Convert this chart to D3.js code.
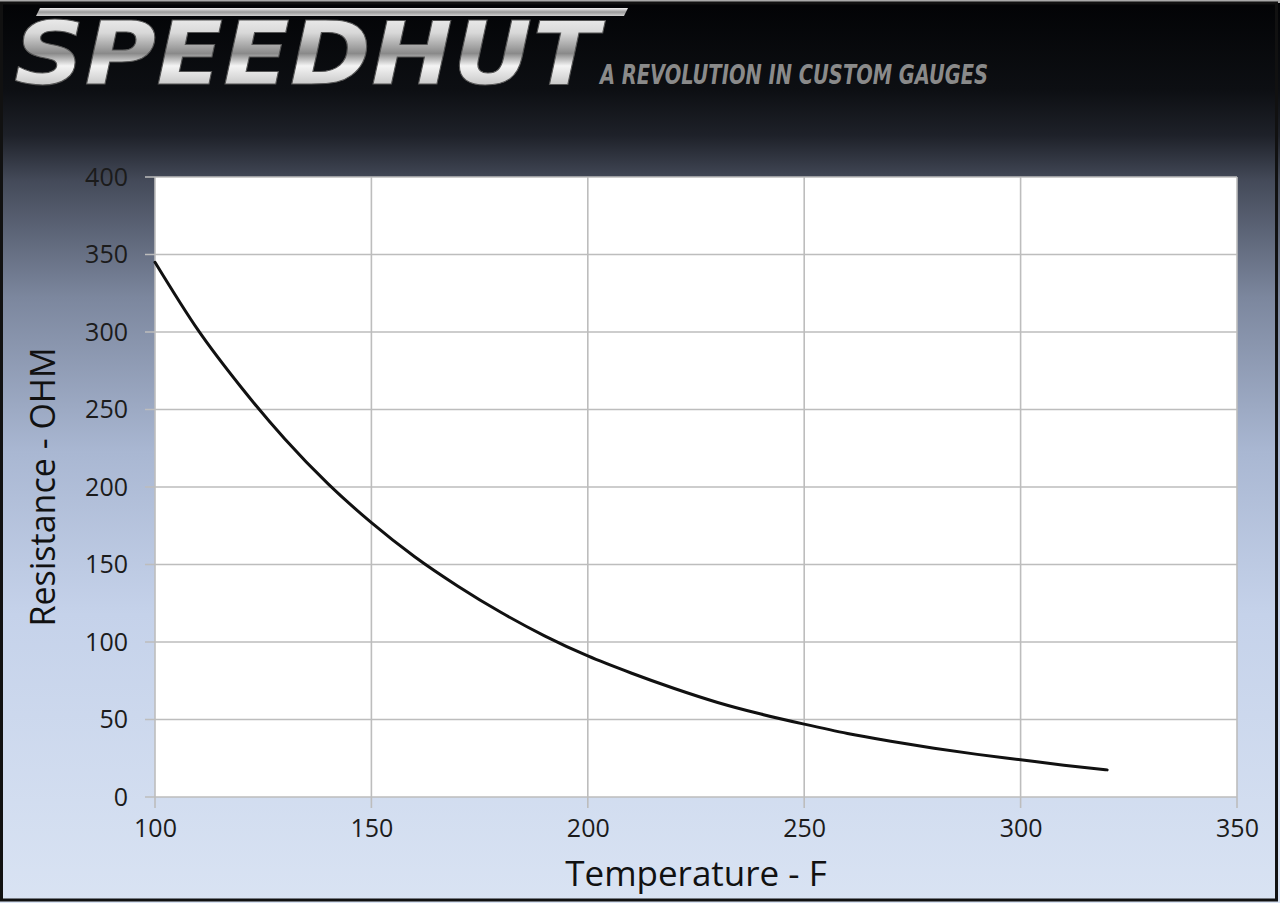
<!DOCTYPE html>
<html>
<head>
<meta charset="utf-8">
<script src="https://cdn.jsdelivr.net/npm/d3@7"></script>
<style>
  html, body { margin: 0; padding: 0; background: #000; }
  svg { display: block; }
</style>
</head>
<body>
<svg id="chart" width="1280" height="903"></svg>
<script>
// ---- data ----
const temperatureF = [100, 110, 120, 130, 140, 150, 160, 170, 180, 190, 200, 210, 220, 230, 240, 250, 260, 270, 280, 290, 300, 310, 320];
const resistanceOhm = [345, 301, 264, 231, 202, 177, 155, 136, 119, 104, 91, 80, 70, 61, 53.5, 47, 41, 36, 31.5, 27.5, 24, 20.5, 17.5];
const xTicks = [100, 150, 200, 250, 300, 350];
const yTicks = [0, 50, 100, 150, 200, 250, 300, 350, 400];
const xTitle = "Temperature - F";
const yTitle = "Resistance - OHM";
const brandName = "SPEEDHUT";
const brandTagline = "A REVOLUTION IN CUSTOM GAUGES";

const W = 1280, H = 903;
const plot = { left: 155, right: 1237, top: 177, bottom: 797 };

const svg = d3.select("#chart");
const defs = svg.append("defs");

// background gradient
const bg = defs.append("linearGradient").attr("id", "bg").attr("x1", 0).attr("y1", 0).attr("x2", 0).attr("y2", 1);
[[0, "#020305"], [0.1, "#0d0f13"], [0.15, "#1e2129"], [0.2, "#444a59"], [0.33, "#7c879e"], [0.5, "#a9b7d2"], [0.68, "#c5d2ea"], [1, "#d9e3f3"]]
  .forEach(([o, c]) => bg.append("stop").attr("offset", o).attr("stop-color", c));

const chrome = defs.append("linearGradient").attr("id", "chrome").attr("x1", 0).attr("y1", 0).attr("x2", 0).attr("y2", 1);
[[0, "#ffffff"], [0.3, "#d8d8d8"], [0.5, "#8a8a8a"], [0.62, "#f4f4f4"], [0.85, "#bdbdbd"], [1, "#6a6a6a"]]
  .forEach(([o, c]) => chrome.append("stop").attr("offset", o).attr("stop-color", c));

const bar = defs.append("linearGradient").attr("id", "bar").attr("x1", 0).attr("y1", 0).attr("x2", 0).attr("y2", 1);
[[0, "#f0f0f0"], [0.5, "#9a9a9a"], [1, "#d0d0d0"]]
  .forEach(([o, c]) => bar.append("stop").attr("offset", o).attr("stop-color", c));

svg.append("rect").attr("width", W).attr("height", H).attr("fill", "url(#bg)");

// frame
svg.append("rect").attr("x", 0).attr("y", 0).attr("width", W).attr("height", 3).attr("fill", "#a9a9a9");
svg.append("rect").attr("x", 1.5).attr("y", 3).attr("width", W - 5).attr("height", H - 6)
  .attr("fill", "none").attr("stroke", "#111").attr("stroke-width", 3);

// brand header
svg.append("path")
  .attr("d", "M40,8 L628,8 L624,16 L36,16 Z")
  .attr("fill", "url(#bar)");
svg.append("text")
  .attr("x", 14).attr("y", 84)
  .attr("font-family", "DejaVu Sans").attr("font-weight", "bold").attr("font-style", "italic")
  .attr("font-size", 88)
  .attr("textLength", 585).attr("lengthAdjust", "spacingAndGlyphs")
  .attr("fill", "url(#chrome)").attr("stroke", "#555").attr("stroke-width", 1)
  .text(brandName);
svg.append("text")
  .attr("x", 600).attr("y", 84)
  .attr("font-family", "DejaVu Sans Condensed, DejaVu Sans").attr("font-weight", "bold").attr("font-style", "italic")
  .attr("font-size", 27)
  .attr("textLength", 388).attr("lengthAdjust", "spacingAndGlyphs")
  .attr("fill", "#8a8a8a")
  .text(brandTagline);

// scales
const x = d3.scaleLinear().domain([100, 350]).range([plot.left, plot.right]);
const y = d3.scaleLinear().domain([0, 400]).range([plot.bottom, plot.top]);

// plot area
svg.append("rect")
  .attr("x", plot.left).attr("y", plot.top)
  .attr("width", plot.right - plot.left).attr("height", plot.bottom - plot.top)
  .attr("fill", "#ffffff");

// gridlines
const grid = svg.append("g").attr("stroke", "#bdbdbd").attr("stroke-width", 1.6);
grid.selectAll(".gx").data(xTicks).join("line")
  .attr("x1", d => x(d)).attr("x2", d => x(d))
  .attr("y1", plot.top).attr("y2", plot.bottom + 11);
grid.selectAll(".gy").data(yTicks).join("line")
  .attr("y1", d => y(d)).attr("y2", d => y(d))
  .attr("x1", plot.left - 10).attr("x2", plot.right);

// axes (labels)
const fontFam = "'Open Sans', 'Noto Sans', sans-serif";
const xAxis = svg.append("g").attr("transform", `translate(0,${plot.bottom})`)
  .call(d3.axisBottom(x).tickValues(xTicks).tickSize(0).tickPadding(40));
const yAxis = svg.append("g").attr("transform", `translate(${plot.left},0)`)
  .call(d3.axisLeft(y).tickValues(yTicks).tickSize(0).tickPadding(27));
[xAxis, yAxis].forEach(a => {
  a.select(".domain").remove();
  a.selectAll("text").attr("font-family", fontFam).attr("font-size", 25).attr("fill", "#1b1b1b");
});
xAxis.selectAll("text").attr("dy", "0");

// line
const line = d3.line()
  .x((d, i) => x(temperatureF[i]))
  .y(d => y(d))
  .curve(d3.curveMonotoneX);
svg.append("path")
  .datum(resistanceOhm)
  .attr("d", line)
  .attr("fill", "none")
  .attr("stroke", "#111")
  .attr("stroke-width", 3)
  .attr("stroke-linecap", "round");

// axis titles
svg.append("text")
  .attr("x", (plot.left + plot.right) / 2).attr("y", 886)
  .attr("text-anchor", "middle")
  .attr("font-family", fontFam).attr("font-size", 35).attr("fill", "#111")
  .text(xTitle);
svg.append("text")
  .attr("transform", `translate(55,${(plot.top + plot.bottom) / 2}) rotate(-90)`)
  .attr("text-anchor", "middle")
  .attr("font-family", fontFam).attr("font-size", 34).attr("fill", "#111")
  .text(yTitle);
</script>
</body>
</html>
